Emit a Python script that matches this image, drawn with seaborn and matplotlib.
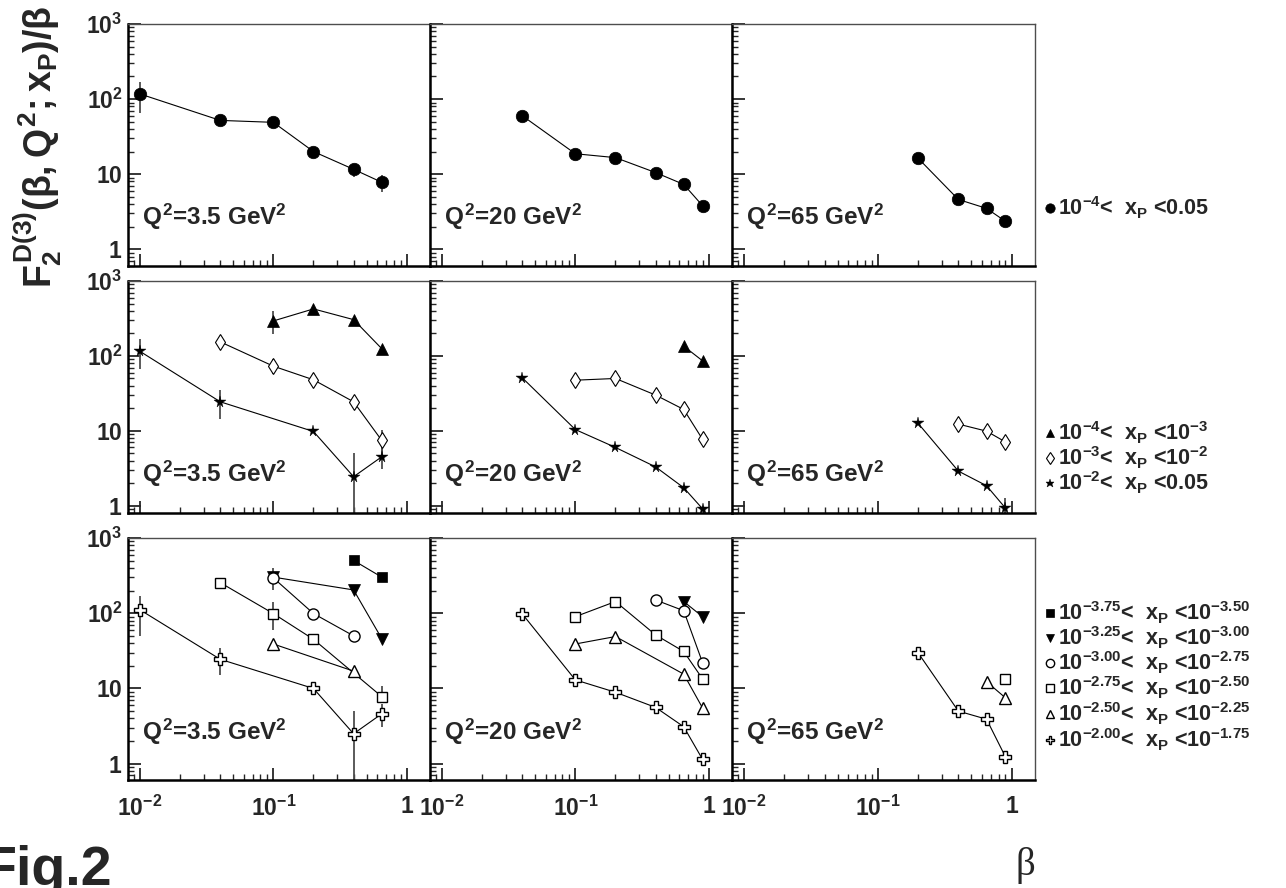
import numpy as np
import matplotlib
matplotlib.use("Agg")
import matplotlib.pyplot as plt
import seaborn as sns

# ---------------- data (beta, F2D3/beta, error low/high) ----------------
# row 1 : 1e-4 < xP < 0.05
r1_q35_beta = [0.01, 0.04, 0.1, 0.2, 0.4, 0.65]
r1_q35_f2 = [117, 52, 49, 20, 11.6, 7.8]
r1_q35_lo = [65, 52, 49, 20, 9.2, 5.8]
r1_q35_hi = [170, 52, 49, 20, 13.5, 9.8]
r1_q20_beta = [0.04, 0.1, 0.2, 0.4, 0.65, 0.9]
r1_q20_f2 = [60, 18.7, 16.6, 10.5, 7.3, 3.8]
r1_q65_beta = [0.2, 0.4, 0.65, 0.9]
r1_q65_f2 = [16.3, 4.6, 3.5, 2.35]

# row 2 : decades of xP
r2_q35_tri_beta = [0.1, 0.2, 0.4, 0.65]
r2_q35_tri_f2 = [293, 424, 305, 125]
r2_q35_tri_lo = [199, 424, 305, 125]
r2_q35_tri_hi = [395, 424, 305, 125]
r2_q35_dia_beta = [0.04, 0.1, 0.2, 0.4, 0.65]
r2_q35_dia_f2 = [154, 73, 48, 24.4, 7.45]
r2_q35_dia_lo = [154, 57, 48, 20, 5.3]
r2_q35_dia_hi = [154, 90, 48, 28, 10.4]
r2_q35_star_beta = [0.01, 0.04, 0.2, 0.4, 0.65]
r2_q35_star_f2 = [115, 24.4, 9.8, 2.44, 4.5]
r2_q35_star_lo = [66, 14.6, 9.8, 0.3, 3.05]
r2_q35_star_hi = [166, 35, 9.8, 5.0, 6.1]
r2_q20_tri_beta = [0.65, 0.9]
r2_q20_tri_f2 = [135, 86]
r2_q20_dia_beta = [0.1, 0.2, 0.4, 0.65, 0.9]
r2_q20_dia_f2 = [47.4, 50, 30, 19.3, 7.7]
r2_q20_star_beta = [0.04, 0.1, 0.2, 0.4, 0.65, 0.9]
r2_q20_star_f2 = [51, 10.4, 6.0, 3.3, 1.74, 0.91]
r2_q65_dia_beta = [0.4, 0.65, 0.9]
r2_q65_dia_f2 = [12.3, 9.9, 7.1]
r2_q65_star_beta = [0.2, 0.4, 0.65, 0.9]
r2_q65_star_f2 = [12.6, 2.9, 1.85, 0.93]
r2_q65_star_lo = [12.6, 2.9, 1.85, 0.5]
r2_q65_star_hi = [12.6, 2.9, 1.85, 1.28]

# row 3 : quarter decades of xP
r3_q35_fsq_beta = [0.4, 0.65]
r3_q35_fsq_f2 = [503, 302]
r3_q35_tdn_beta = [0.1, 0.4, 0.65]
r3_q35_tdn_f2 = [302, 204, 46]
r3_q35_tdn_lo = [204, 204, 46]
r3_q35_tdn_hi = [398, 204, 46]
r3_q35_oci_beta = [0.1, 0.2, 0.4]
r3_q35_oci_f2 = [295, 99, 50]
r3_q35_osq_beta = [0.04, 0.1, 0.2, 0.65]
r3_q35_osq_f2 = [255, 99, 45, 7.8]
r3_q35_osq_lo = [255, 60, 45, 6.6]
r3_q35_osq_hi = [255, 143, 45, 10.7]
r3_q35_otr_beta = [0.1, 0.4]
r3_q35_otr_f2 = [39, 17]
r3_q35_ocr_beta = [0.01, 0.04, 0.2, 0.4, 0.65]
r3_q35_ocr_f2 = [111, 24.4, 10, 2.5, 4.6]
r3_q35_ocr_lo = [50, 15, 10, 0.3, 3.1]
r3_q35_ocr_hi = [170, 35, 10, 5.0, 6.3]
r3_q20_tdn_beta = [0.65, 0.9]
r3_q20_tdn_f2 = [143, 90]
r3_q20_oci_beta = [0.4, 0.65, 0.9]
r3_q20_oci_f2 = [150, 108, 22]
r3_q20_osq_beta = [0.1, 0.2, 0.4, 0.65, 0.9]
r3_q20_osq_f2 = [90, 143, 51.5, 31, 13.4]
r3_q20_otr_beta = [0.1, 0.2, 0.65, 0.9]
r3_q20_otr_f2 = [39, 49, 15.5, 5.5]
r3_q20_ocr_beta = [0.04, 0.1, 0.2, 0.4, 0.65, 0.9]
r3_q20_ocr_f2 = [98, 13, 8.9, 5.6, 3.1, 1.14]
r3_q65_ocr_beta = [0.2, 0.4, 0.65, 0.9]
r3_q65_ocr_f2 = [29.8, 5.0, 3.9, 1.23]
r3_q65_otr_beta = [0.65, 0.9]
r3_q65_otr_f2 = [12.3, 7.5]
r3_q65_osq_beta = [0.9]
r3_q65_osq_f2 = [13.5]

q2_labels = [r'$Q^{2}$=3.5 GeV$^{2}$', r'$Q^{2}$=20 GeV$^{2}$', r'$Q^{2}$=65 GeV$^{2}$']
leg_row1 = ['10$^{-4}$<  x$_{P}$ <0.05']
leg_row2 = ['10$^{-4}$<  x$_{P}$ <10$^{-3}$',
            '10$^{-3}$<  x$_{P}$ <10$^{-2}$',
            '10$^{-2}$<  x$_{P}$ <0.05']
leg_row3 = ['10$^{-3.75}$<  x$_{P}$ <10$^{-3.50}$',
            '10$^{-3.25}$<  x$_{P}$ <10$^{-3.00}$',
            '10$^{-3.00}$<  x$_{P}$ <10$^{-2.75}$',
            '10$^{-2.75}$<  x$_{P}$ <10$^{-2.50}$',
            '10$^{-2.50}$<  x$_{P}$ <10$^{-2.25}$',
            '10$^{-2.00}$<  x$_{P}$ <10$^{-1.75}$']

# ---------------- style ----------------
sns.set_theme(style="ticks")
plt.rcParams['font.family'] = ['Liberation Sans', 'DejaVu Sans']
plt.rcParams['font.weight'] = 'bold'
plt.rcParams['mathtext.fontset'] = 'custom'
plt.rcParams['mathtext.rm'] = 'Liberation Sans:bold'
plt.rcParams['mathtext.it'] = 'Liberation Sans:bold'
plt.rcParams['mathtext.bf'] = 'Liberation Sans:bold'
plt.rcParams['mathtext.sf'] = 'Liberation Sans'

estilos = {
    'all': dict(marker='o', ms=9, mfc='black', mec='black', mew=0.5),
    'tri': dict(marker='^', ms=8, mfc='black', mec='black', mew=0.5),
    'dia': dict(marker='d', ms=8, mfc='white', mec='black', mew=0.8),
    'star': dict(marker='*', ms=8.5, mfc='black', mec='black', mew=0.3),
    'fsq': dict(marker='s', ms=7, mfc='black', mec='black', mew=0.5),
    'tdn': dict(marker='v', ms=8, mfc='black', mec='black', mew=0.5),
    'oci': dict(marker='o', ms=8, mfc='white', mec='black', mew=1.0),
    'osq': dict(marker='s', ms=7.5, mfc='white', mec='black', mew=1.0),
    'otr': dict(marker='^', ms=8.5, mfc='white', mec='black', mew=1.0),
    'ocr': dict(marker='P', ms=8.5, mfc='white', mec='black', mew=1.0),
}

series = [
    (0, 0, 'all', r1_q35_beta, r1_q35_f2, r1_q35_lo, r1_q35_hi),
    (0, 1, 'all', r1_q20_beta, r1_q20_f2, None, None),
    (0, 2, 'all', r1_q65_beta, r1_q65_f2, None, None),
    (1, 0, 'tri', r2_q35_tri_beta, r2_q35_tri_f2, r2_q35_tri_lo, r2_q35_tri_hi),
    (1, 0, 'dia', r2_q35_dia_beta, r2_q35_dia_f2, r2_q35_dia_lo, r2_q35_dia_hi),
    (1, 0, 'star', r2_q35_star_beta, r2_q35_star_f2, r2_q35_star_lo, r2_q35_star_hi),
    (1, 1, 'tri', r2_q20_tri_beta, r2_q20_tri_f2, None, None),
    (1, 1, 'dia', r2_q20_dia_beta, r2_q20_dia_f2, None, None),
    (1, 1, 'star', r2_q20_star_beta, r2_q20_star_f2, None, None),
    (1, 2, 'dia', r2_q65_dia_beta, r2_q65_dia_f2, None, None),
    (1, 2, 'star', r2_q65_star_beta, r2_q65_star_f2, r2_q65_star_lo, r2_q65_star_hi),
    (2, 0, 'fsq', r3_q35_fsq_beta, r3_q35_fsq_f2, None, None),
    (2, 0, 'tdn', r3_q35_tdn_beta, r3_q35_tdn_f2, r3_q35_tdn_lo, r3_q35_tdn_hi),
    (2, 0, 'oci', r3_q35_oci_beta, r3_q35_oci_f2, None, None),
    (2, 0, 'osq', r3_q35_osq_beta, r3_q35_osq_f2, r3_q35_osq_lo, r3_q35_osq_hi),
    (2, 0, 'otr', r3_q35_otr_beta, r3_q35_otr_f2, None, None),
    (2, 0, 'ocr', r3_q35_ocr_beta, r3_q35_ocr_f2, r3_q35_ocr_lo, r3_q35_ocr_hi),
    (2, 1, 'tdn', r3_q20_tdn_beta, r3_q20_tdn_f2, None, None),
    (2, 1, 'oci', r3_q20_oci_beta, r3_q20_oci_f2, None, None),
    (2, 1, 'osq', r3_q20_osq_beta, r3_q20_osq_f2, None, None),
    (2, 1, 'otr', r3_q20_otr_beta, r3_q20_otr_f2, None, None),
    (2, 1, 'ocr', r3_q20_ocr_beta, r3_q20_ocr_f2, None, None),
    (2, 2, 'ocr', r3_q65_ocr_beta, r3_q65_ocr_f2, None, None),
    (2, 2, 'otr', r3_q65_otr_beta, r3_q65_otr_f2, None, None),
    (2, 2, 'osq', r3_q65_osq_beta, r3_q65_osq_f2, None, None),
]

# ---------------- layout (pixels) ----------------
W, H = 1286, 888
col_px = [(128, 430), (430, 732), (732, 1035)]
row_px = [(24, 266), (281, 513), (538, 780)]
y_bottom = [0.598, 0.80, 0.607]

fig = plt.figure(figsize=(W / 100, H / 100), dpi=100)
fig.patch.set_facecolor('white')

axes = {}
for r, (y0, y1) in enumerate(row_px):
    for c, (x0, x1) in enumerate(col_px):
        ax = fig.add_axes([x0 / W, 1 - y1 / H, (x1 - x0) / W, (y1 - y0) / H])
        ax.set_facecolor('white')
        ax.set_xscale('log')
        ax.set_yscale('log')
        ax.set_xlim(10 ** -2.09, 10 ** 0.175)
        ax.set_ylim(y_bottom[r], 1000)
        ax.grid(False)
        ax.set_xticks([0.01, 0.1, 1])
        ax.set_yticks([1, 10, 100, 1000])
        ax.tick_params(which='major', direction='in', length=9, width=1.3,
                       top=False, right=False, labelsize=16.5, pad=4)
        ax.tick_params(which='minor', direction='in', length=4.5, width=1.0,
                       top=False, right=False)
        ax.tick_params(axis='x', pad=11)
        if r == 2:
            ax.set_xticklabels([r'$10^{-2}$', r'$10^{-1}$', r'$1$'])
        else:
            ax.set_xticklabels([])
        if c == 0:
            ax.set_yticklabels([r'$1$', r'$10$', r'$10^{2}$', r'$10^{3}$'])
        else:
            ax.set_yticklabels([])
        for s in ['left', 'bottom']:
            ax.spines[s].set_linewidth(1.8)
            ax.spines[s].set_color('black')
        for s in ['top', 'right']:
            ax.spines[s].set_linewidth(1.0)
            ax.spines[s].set_color('0.3')
        ax.text(0.0103, 2.1, q2_labels[c], fontsize=17.5, ha='left', va='baseline')
        axes[(r, c)] = ax

for r, c, est, beta, f2, lo, hi in series:
    ax = axes[(r, c)]
    if lo is not None:
        f = np.array(f2, dtype=float)
        yerr = [f - np.array(lo, dtype=float), np.array(hi, dtype=float) - f]
        ax.errorbar(beta, f2, yerr=yerr, fmt='none', ecolor='0.3',
                    elinewidth=1.3, capsize=0, zorder=2)
    sns.lineplot(x=beta, y=f2, ax=ax, color='black', lw=0.8, estimator=None,
                 sort=False, zorder=3, **estilos[est])
    ax.set_xlabel('')
    ax.set_ylabel('')

# ---------------- legends (manual, ROOT style) ----------------
lax = fig.add_axes([0, 0, 1, 1], zorder=-1)
lax.set_xlim(0, W)
lax.set_ylim(H, 0)
lax.axis('off')

leg_x = 1050
leg_blocks = [
    (['all'], leg_row1, [208]),
    (['tri', 'dia', 'star'], leg_row2, [433, 458, 483]),
    (['fsq', 'tdn', 'oci', 'osq', 'otr', 'ocr'], leg_row3,
     [613, 638, 663, 688, 714, 740]),
]
for keys, labels, ys in leg_blocks:
    for k, lab, yy in zip(keys, labels, ys):
        st = dict(estilos[k])
        st['ms'] = st['ms'] * 0.75
        lax.plot([leg_x], [yy], ls='none', **st)
        lax.text(leg_x + 8, yy, lab, fontsize=15.5, ha='left', va='center')

# ---------------- axis titles ----------------
fig.text(38 / W, 1 - 6 / H,
         r'$F_{2}^{D(3)}\mathsf{(\beta},Q^{2};x_{P})/\mathsf{\beta}$',
         rotation=90, fontsize=27, ha='center', va='top')
fig.text(1025 / W, 1 - 865 / H, 'β', family='Liberation Serif',
         fontsize=28, fontweight='normal', ha='center', va='center')
fig.text(112 / W, 3 / H, 'Fig.2', fontsize=40, fontweight='bold',
         ha='right', va='baseline')

fig.savefig('out.png', dpi=100, facecolor='white')
